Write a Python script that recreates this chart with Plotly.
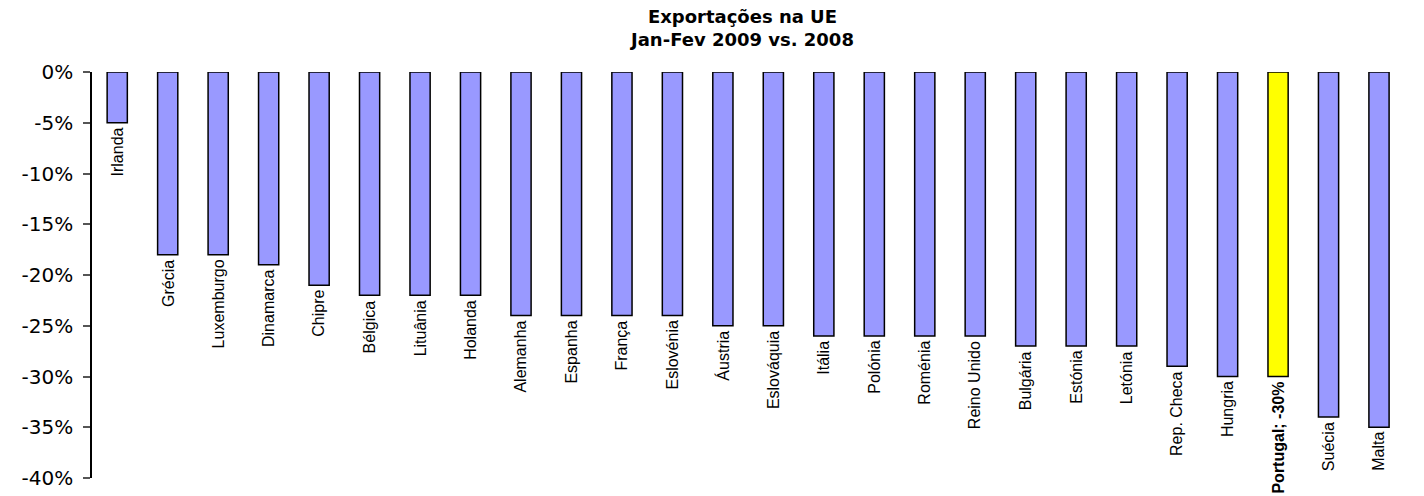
import plotly.graph_objects as go

# data
paises = ["Irlanda", "Grécia", "Luxemburgo", "Dinamarca", "Chipre", "Bélgica",
          "Lituânia", "Holanda", "Alemanha", "Espanha", "França", "Eslovénia",
          "Áustria", "Eslováquia", "Itália", "Polónia", "Roménia", "Reino Unido",
          "Bulgária", "Estónia", "Letónia", "Rep. Checa", "Hungria", "Portugal",
          "Suécia", "Malta", "Finlândia"]
variacao = [-5, -18, -18, -19, -21, -22, -22, -22, -24, -24, -24, -24, -25, -25,
            -26, -26, -26, -26, -27, -27, -27, -29, -30, -30, -34, -35, -36]
yticks = [0, -5, -10, -15, -20, -25, -30, -35, -40]

cores = ["#FFFF00" if p == "Portugal" else "#9999FF" for p in paises]
xs = list(range(len(paises)))

fig = go.Figure(go.Bar(
    x=xs, y=variacao, width=0.4,
    marker=dict(color=cores, line=dict(color="black", width=1.5)),
    hoverinfo="skip",
))

# category labels hang vertically under each bar
lblfont = dict(family="Liberation Sans, Arial", size=16, color="black")
for i, (p, v) in enumerate(zip(paises, variacao)):
    txt = "<b>Portugal; -30%</b>" if p == "Portugal" else p
    fig.add_annotation(x=i, y=v, text=txt, textangle=-90, showarrow=False,
                       xanchor="center", yanchor="top", yshift=-3,
                       font=lblfont)

fig.add_annotation(xref="paper", yref="paper", x=0.485, y=1.05,
                   xanchor="center", yanchor="bottom", showarrow=False,
                   text="<b>Exportações na UE<br>Jan-Fev 2009 vs. 2008</b>",
                   font=dict(family="DejaVu Sans", size=18, color="black"))

# page body has an 8px margin, so the plot area is shifted left/up to compensate;
# the right side runs past the window so the last bar is cut like the original
fig.update_layout(
    width=1424, height=496,
    margin=dict(l=84, r=0, t=64, b=26, autoexpand=False),
    paper_bgcolor="white", plot_bgcolor="white",
    showlegend=False,
    xaxis=dict(range=[-0.5, 26.05], showticklabels=False, showgrid=False,
               zeroline=False, showline=False, ticks="", automargin=False),
    yaxis=dict(range=[-40, 0], tickvals=yticks,
               ticktext=[f"{t}%" for t in yticks],
               showgrid=False, zeroline=False, showline=True, automargin=False,
               linecolor="black", linewidth=1.5, ticks="outside", ticklen=7,
               tickcolor="#555555", tickwidth=1.5, ticklabelstandoff=6,
               tickfont=dict(family="DejaVu Sans", size=20, color="black")),
)

fig.write_html("out.html")
